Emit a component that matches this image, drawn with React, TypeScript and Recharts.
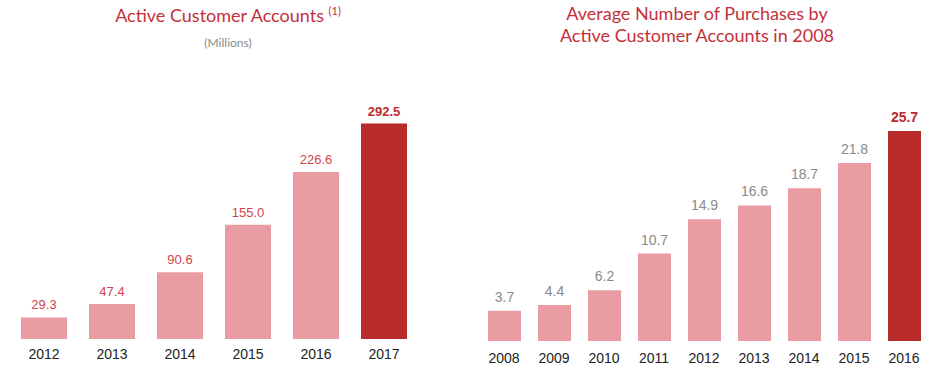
import { BarChart, Bar, XAxis, YAxis, Cell, LabelList } from 'recharts'

const accountYears = ['2012', '2013', '2014', '2015', '2016', '2017']
const accountValues = [29.3, 47.4, 90.6, 155.0, 226.6, 292.5]

const purchaseYears = ['2008', '2009', '2010', '2011', '2012', '2013', '2014', '2015', '2016']
const purchaseValues = [3.7, 4.4, 6.2, 10.7, 14.9, 16.6, 18.7, 21.8, 25.7]

const pink = '#e89ca1'
const darkRed = '#b82c2c'
const titleRed = '#c4303a'

const accountData = accountYears.map((year, i) => ({ year, value: accountValues[i] }))
const purchaseData = purchaseYears.map((year, i) => ({ year, value: purchaseValues[i] }))

function makeLabel(count: number, normalColor: string, size: number, offset: number) {
  return (props: any) => {
    const { x, y, width, index, value } = props
    const last = index === count - 1
    return (
      <text
        x={x + width / 2}
        y={y - offset}
        textAnchor="middle"
        fontFamily="'Liberation Sans', Arial, sans-serif"
        fontSize={size}
        fontWeight={last ? 700 : 400}
        fill={last ? '#c0292e' : normalColor}
      >
        {Number(value).toFixed(1)}
      </text>
    )
  }
}

const tickStyle = { fill: '#222', fontSize: 14, fontFamily: "'Liberation Sans', Arial, sans-serif" }

export default function App() {
  return (
    <div
      style={{
        position: 'absolute',
        left: 0,
        top: 0,
        width: 940,
        height: 371,
        background: '#fff',
        fontFamily: "Lato, 'Open Sans', sans-serif",
      }}
    >
      <div style={{ position: 'absolute', left: 0, width: 456, top: 4, textAlign: 'center', color: titleRed, fontSize: 18 }}>
        Active Customer Accounts <sup style={{ fontSize: 11 }}>(1)</sup>
      </div>
      <div style={{ position: 'absolute', left: 0, width: 456, top: 35, textAlign: 'center', color: '#8a8a8a', fontSize: 12 }}>
        (Millions)
      </div>
      <div
        style={{
          position: 'absolute',
          left: 497,
          width: 400,
          top: 2,
          textAlign: 'center',
          color: titleRed,
          fontSize: 18,
          lineHeight: '22px',
        }}
      >
        Average Number of Purchases by
        <br />
        Active Customer Accounts in 2008
      </div>

      <div style={{ position: 'absolute', left: 10, top: 0 }}>
        <BarChart width={408} height={371} data={accountData} margin={{ top: 118, right: 0, bottom: 0, left: 0 }}>
          <XAxis dataKey="year" height={32} axisLine={false} tickLine={false} tick={tickStyle} tickMargin={4} />
          <YAxis hide domain={[0, 300]} />
          <Bar dataKey="value" barSize={46} isAnimationActive={false}>
            {accountData.map((d, i) => (
              <Cell key={d.year} fill={i === accountData.length - 1 ? darkRed : pink} />
            ))}
            <LabelList dataKey="value" content={makeLabel(accountData.length, '#d0454a', 13, 8)} />
          </Bar>
        </BarChart>
      </div>

      <div style={{ position: 'absolute', left: 479, top: 0 }}>
        <BarChart width={450} height={371} data={purchaseData} margin={{ top: 96, right: 0, bottom: 0, left: 0 }}>
          <XAxis dataKey="year" height={30} axisLine={false} tickLine={false} tick={tickStyle} tickMargin={6} />
          <YAxis hide domain={[0, 30]} />
          <Bar dataKey="value" barSize={33} isAnimationActive={false}>
            {purchaseData.map((d, i) => (
              <Cell key={d.year} fill={i === purchaseData.length - 1 ? darkRed : pink} />
            ))}
            <LabelList dataKey="value" content={makeLabel(purchaseData.length, '#8a8a8a', 14, 9)} />
          </Bar>
        </BarChart>
      </div>
    </div>
  )
}
